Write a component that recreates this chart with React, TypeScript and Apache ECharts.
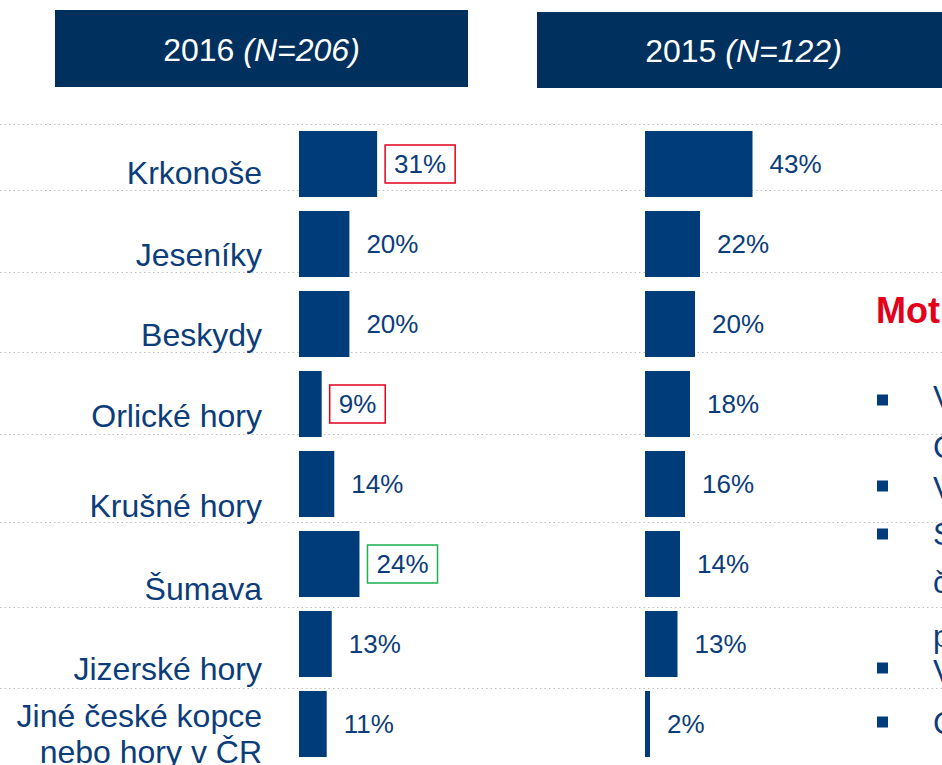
import { useEffect, useRef } from 'react';
import * as echarts from 'echarts';

const categories = [
  'Krkonoše',
  'Jeseníky',
  'Beskydy',
  'Orlické hory',
  'Krušné hory',
  'Šumava',
  'Jizerské hory',
  'Jiné české kopce\nnebo hory v ČR',
];
const values2016 = [31, 20, 20, 9, 14, 24, 13, 11];
const values2015 = [43, 22, 20, 18, 16, 14, 13, 2];
const redBoxed2016 = [0, 3];
const greenBoxed2016 = [5];
const headerYears = ['2016', '2015'];
const headerN = ['N=206', 'N=122'];
const sideTitle = 'Mot';
const sideLetters = ['V', 'C', 'V', 'S', 'č', 'p', 'V', 'C'];

const FONT = '"Liberation Sans", Arial, Helvetica, sans-serif';
const NAVY = '#003B7A';
const TEXT = '#0B3D7B';
const HEADER = '#00305E';
const RED = '#E2001A';
const GREEN = '#1DB04F';

// layout (pixels)
const labelCenters = [173, 255, 335, 416, 506, 589, 669, 734];
const gridLineYs = [124, 190, 272, 352, 434, 522, 607, 688];
const letterCenters = [397, 447, 488, 534, 582, 636, 671, 723];
const bulletCenters = [400, 486, 534, 668, 722];

export default function App() {
  const ref = useRef<HTMLDivElement>(null);
  useEffect(() => {
    document.body.style.margin = '0';
    const chart = echarts.init(ref.current!, null, { renderer: 'svg' });

    const makeData = (vals: number[], boxed: boolean) =>
      vals.map((v, i) => {
        const isRed = boxed && redBoxed2016.includes(i);
        const isGreen = boxed && greenBoxed2016.includes(i);
        if (isRed || isGreen) {
          return {
            value: v,
            label: {
              borderColor: isRed ? RED : GREEN,
              borderWidth: 1.5,
              padding: [6, 9, 6, 9],
              distance: 8,
            },
          };
        }
        return { value: v };
      });

    const graphics: any[] = [];
    gridLineYs.forEach((y) => {
      graphics.push({
        type: 'line',
        z: 0,
        shape: { x1: 0, y1: y + 0.5, x2: 942, y2: y + 0.5 },
        style: { stroke: '#BFBFBF', lineWidth: 1, lineDash: [1.5, 3] },
      });
    });
    const headerBoxes = [
      { x: 55, y: 10, w: 413, h: 77 },
      { x: 537, y: 12, w: 413, h: 76 },
    ];
    headerBoxes.forEach((b, i) => {
      graphics.push({
        type: 'rect',
        z: 1,
        shape: { x: b.x, y: b.y, width: b.w, height: b.h },
        style: { fill: HEADER },
      });
      graphics.push({
        type: 'text',
        z: 2,
        x: b.x + b.w / 2,
        y: b.y + b.h / 2 + 1,
        style: {
          text: `{a|${headerYears[i]} }{b|(${headerN[i]})}`,
          align: 'center',
          verticalAlign: 'middle',
          rich: {
            a: { fontSize: 32, fontFamily: FONT, fill: '#FFFFFF' },
            b: { fontSize: 32, fontFamily: FONT, fill: '#FFFFFF', fontStyle: 'italic' },
          },
        },
      });
    });
    categories.forEach((c, i) => {
      graphics.push({
        type: 'text',
        z: 2,
        x: 262,
        y: labelCenters[i],
        style: {
          text: c,
          align: 'right',
          verticalAlign: 'middle',
          fontSize: 32,
          lineHeight: 36,
          fontFamily: FONT,
          fill: TEXT,
        },
      });
    });
    graphics.push({
      type: 'text',
      z: 2,
      x: 876,
      y: 310,
      style: {
        text: sideTitle,
        align: 'left',
        verticalAlign: 'middle',
        fontSize: 36,
        fontWeight: 'bold',
        fontFamily: FONT,
        fill: RED,
      },
    });
    bulletCenters.forEach((y) => {
      graphics.push({
        type: 'rect',
        z: 2,
        shape: { x: 877, y: y - 5.5, width: 11, height: 11 },
        style: { fill: NAVY },
      });
    });
    sideLetters.forEach((t, i) => {
      graphics.push({
        type: 'text',
        z: 2,
        x: 933,
        y: letterCenters[i],
        style: {
          text: t,
          align: 'left',
          verticalAlign: 'middle',
          fontSize: 31,
          fontFamily: FONT,
          fill: TEXT,
        },
      });
    });

    const valueAxis = (idx: number) => ({
      type: 'value',
      gridIndex: idx,
      min: 0,
      max: 100,
      show: false,
      splitLine: { show: false },
    });
    const catAxis = (idx: number) => ({
      type: 'category',
      gridIndex: idx,
      data: categories,
      inverse: true,
      show: false,
    });
    const barSeries = (idx: number, vals: number[], boxed: boolean) => ({
      type: 'bar',
      xAxisIndex: idx,
      yAxisIndex: idx,
      barWidth: 66,
      z: 3,
      itemStyle: { color: NAVY },
      label: {
        show: true,
        position: 'right',
        distance: 17,
        formatter: '{c}%',
        fontSize: 26,
        fontFamily: FONT,
        color: TEXT,
      },
      data: makeData(vals, boxed),
    });

    chart.setOption({
      animation: false,
      backgroundColor: '#FFFFFF',
      textStyle: { fontFamily: FONT },
      grid: [
        { left: 299, top: 124, width: 252, height: 640 },
        { left: 645, top: 124, width: 250, height: 640 },
      ],
      xAxis: [valueAxis(0), valueAxis(1)],
      yAxis: [catAxis(0), catAxis(1)],
      series: [barSeries(0, values2016, true), barSeries(1, values2015, false)],
      graphic: graphics,
    });
    return () => chart.dispose();
  }, []);
  return <div ref={ref} style={{ width: 942, height: 765 }} />;
}
